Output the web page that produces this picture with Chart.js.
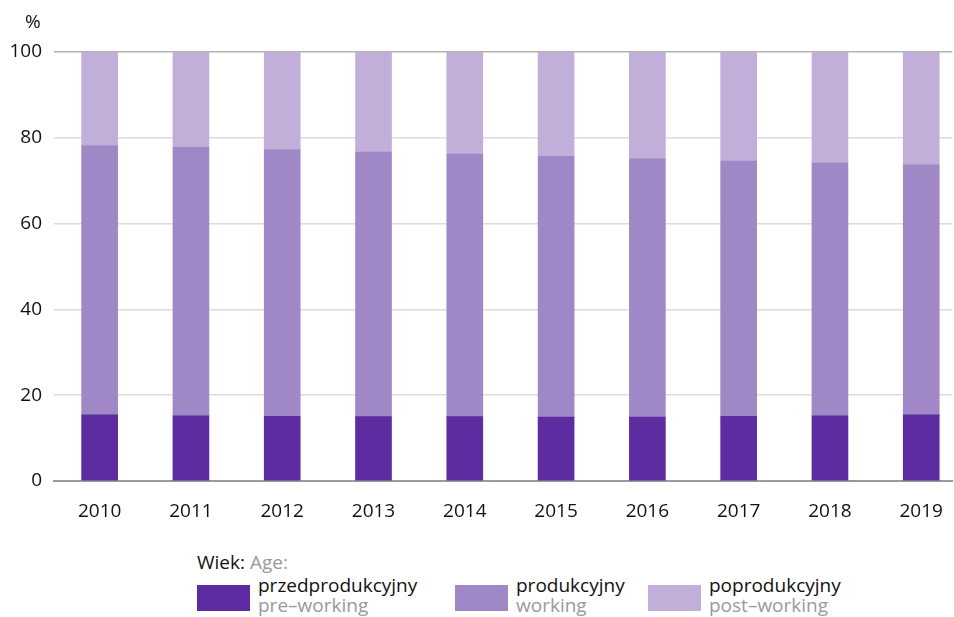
<!DOCTYPE html>
<html>
<head>
<meta charset="utf-8">
<script src="https://cdn.jsdelivr.net/npm/chart.js@4"></script>
<style>
  html, body { margin: 0; padding: 0; background: #fff; }
  body { width: 954px; height: 617px; position: relative; overflow: hidden;
         font-family: "Open Sans", sans-serif; color: #111; }
  #wrap { position: absolute; left: 0; top: 0; width: 954px; height: 530px; }
  .pct { position: absolute; left: 25px; top: 8px; font-size: 19px; }
  .legend-title { position: absolute; left: 197px; top: 549px; font-size: 19px; }
  .legend-title span { color: #999; }
  .item { position: absolute; top: 575px; }
  .item .box { position: absolute; left: 0; top: 10px; width: 53px; height: 26px; }
  .item .txt { position: absolute; left: 61px; top: 0; font-size: 19px; line-height: 20px; white-space: nowrap; }
  .item .txt span { color: #999; }
</style>
</head>
<body>
<div id="wrap"><canvas id="chart" width="954" height="530"></canvas></div>
<div class="pct">%</div>
<div class="legend-title">Wiek: <span>Age:</span></div>
<div class="item" style="left:197px"><div class="box" style="background:#5d2ca0"></div><div class="txt">przedprodukcyjny<br><span>pre–working</span></div></div>
<div class="item" style="left:455px"><div class="box" style="background:#a088c6"></div><div class="txt">produkcyjny<br><span>working</span></div></div>
<div class="item" style="left:648px"><div class="box" style="background:#c1afd9"></div><div class="txt">poprodukcyjny<br><span>post–working</span></div></div>
<script>
// Struktura ludności według ekonomicznych grup wieku (%)
const years = [2010, 2011, 2012, 2013, 2014, 2015, 2016, 2017, 2018, 2019];
const preWorking  = [15.4, 15.2, 15.1, 15.0, 15.0, 14.9, 14.9, 15.1, 15.2, 15.4];
const working     = [62.8, 62.6, 62.1, 61.7, 61.2, 60.8, 60.2, 59.5, 58.9, 58.3];
const postWorking = [21.8, 22.2, 22.8, 23.3, 23.8, 24.3, 24.9, 25.4, 25.9, 26.3];
const yTicks = [0, 20, 40, 60, 80, 100];

const COLORS = ['#5d2ca0', '#a088c6', '#c1afd9'];

const toPoints = arr => arr.map((v, i) => ({ x: years[i], y: v }));

const makeSet = (label, arr, color) => ({
  label,
  data: toPoints(arr),
  backgroundColor: color,
  borderWidth: 0,
  barThickness: 36,
});

new Chart(document.getElementById('chart'), {
  type: 'bar',
  data: {
    datasets: [
      makeSet('przedprodukcyjny', preWorking, COLORS[0]),
      makeSet('produkcyjny', working, COLORS[1]),
      makeSet('poprodukcyjny', postWorking, COLORS[2]),
    ],
  },
  options: {
    responsive: false,
    animation: false,
    layout: { padding: { top: 52, right: 1, left: 0, bottom: 0 } },
    plugins: { legend: { display: false }, tooltip: { enabled: false } },
    scales: {
      x: {
        type: 'linear',
        stacked: true,
        offset: false,
        min: 2009.5,
        max: 2019.34,
        afterBuildTicks: s => { s.ticks = years.map(v => ({ value: v })); },
        grid: { display: false },
        border: { color: '#9a9a9a', width: 2 },
        ticks: {
          color: '#111',
          font: { family: 'Open Sans', size: 19 },
          padding: 11,
          maxRotation: 0,
          callback: v => String(v),
        },
        afterFit: s => { s.height = 49; },
      },
      y: {
        stacked: true,
        min: 0,
        max: 100,
        afterBuildTicks: s => { s.ticks = yTicks.map(v => ({ value: v })); },
        border: { display: false },
        grid: {
          drawTicks: false,
          color: ctx => ctx.tick.value === 100 ? '#b3b3b3' : '#dcdcdc',
          lineWidth: 1.5,
        },
        ticks: {
          color: '#111',
          font: { family: 'Open Sans', size: 19 },
          padding: 12,
        },
        afterFit: s => { s.width = 54; },
      },
    },
  },
});
</script>
</body>
</html>
